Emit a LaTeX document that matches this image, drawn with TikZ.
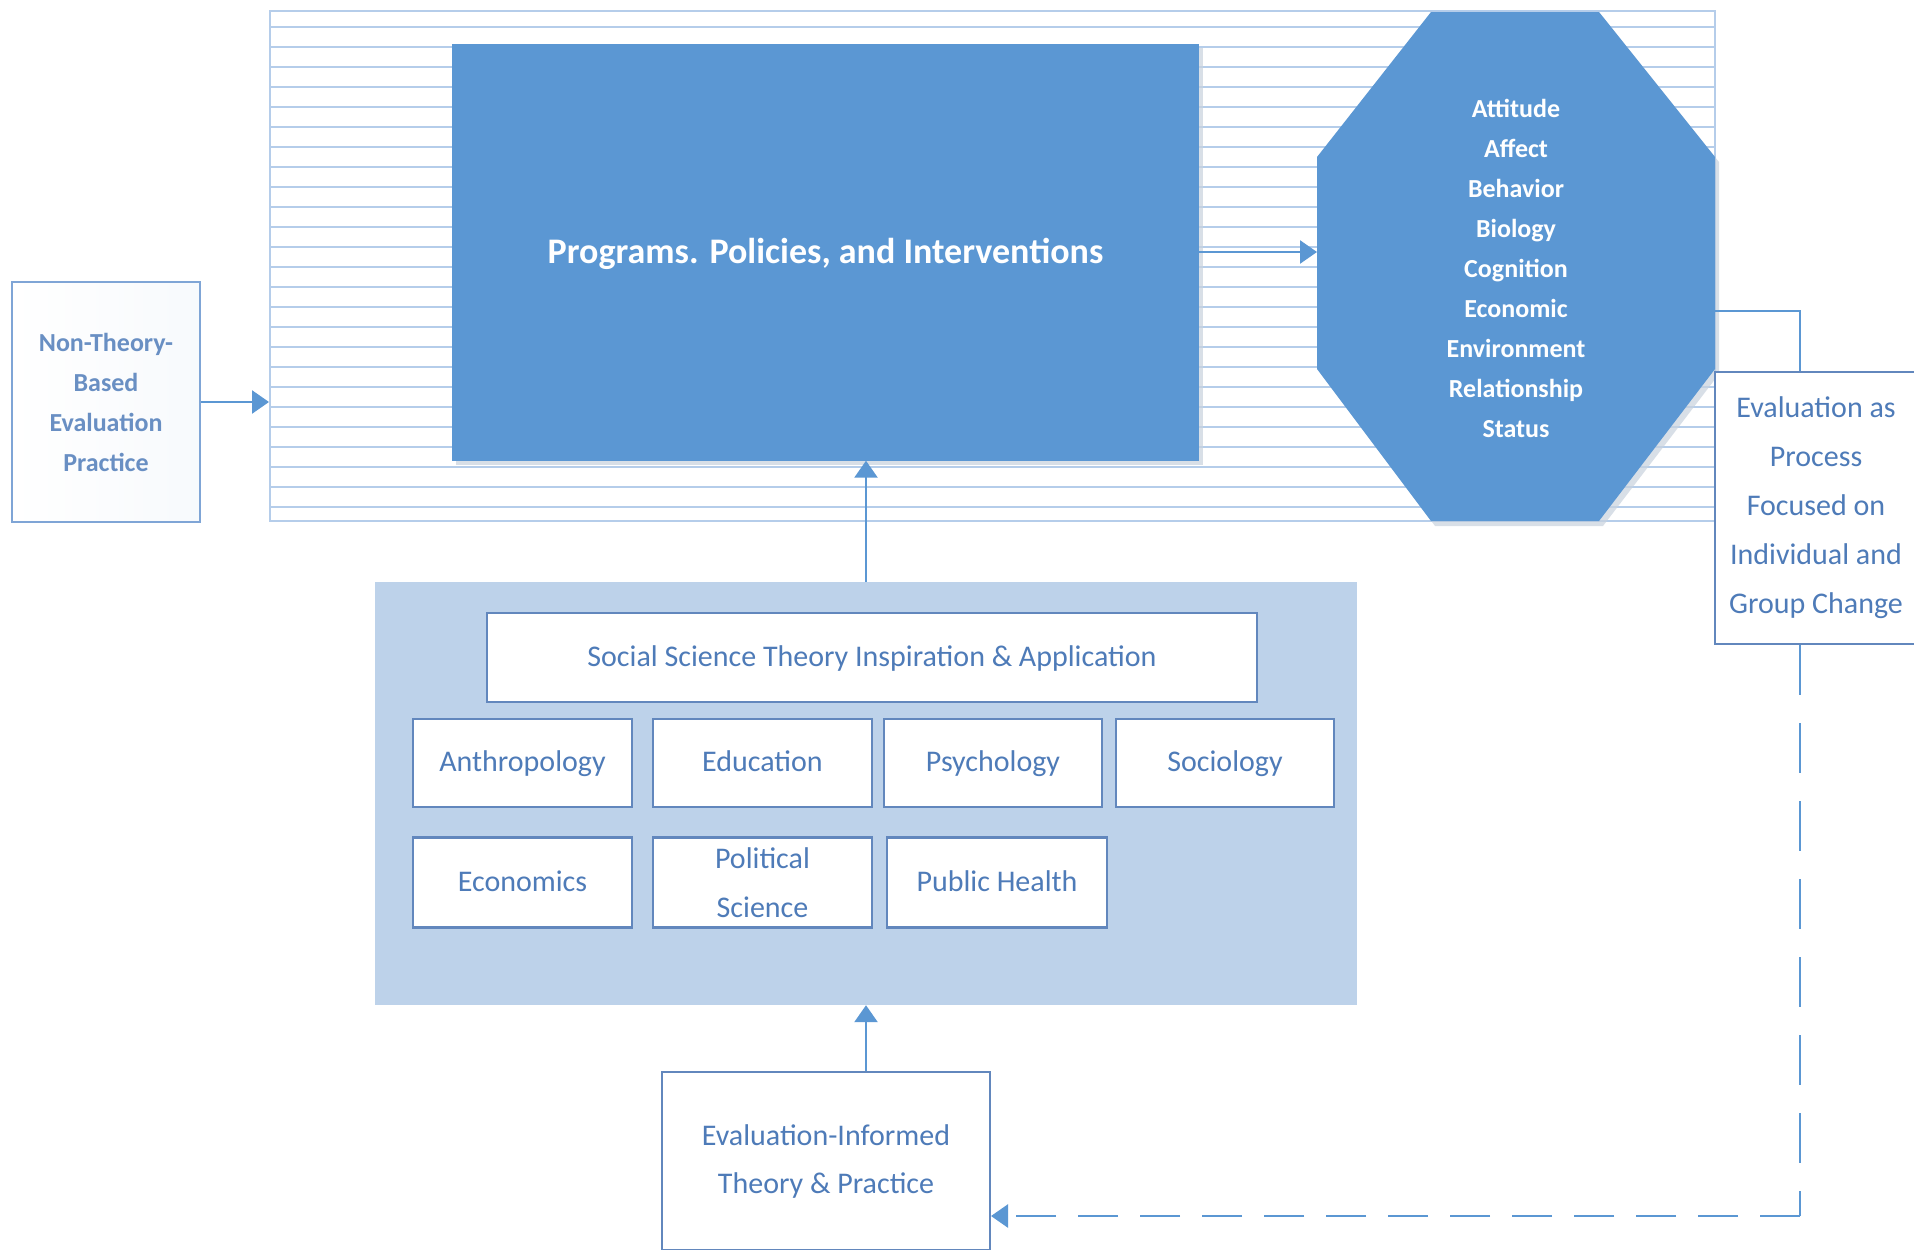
\documentclass[tikz,border=0pt]{standalone}
\usepackage{fontspec}
\setmainfont{Carlito}
\usetikzlibrary{arrows.meta}
\definecolor{mainblue}{HTML}{5B97D3}
\definecolor{hatchc}{HTML}{B5CDEA}
\definecolor{panelc}{HTML}{BDD2EA}
\definecolor{txtc}{HTML}{4E7BB8}
\definecolor{bordc}{HTML}{6287BD}
\definecolor{lightbord}{HTML}{7FA5D6}
\definecolor{connc}{HTML}{5B97D3}
\definecolor{shadowc}{HTML}{C8D2DE}
\tikzset{
  hatchline/.style={draw=hatchc, line width=2.5pt},
  framebox/.style={draw=hatchc, line width=2pt, inner sep=0pt},
  progbox/.style={fill=mainblue, draw=none, text=white, font=\fontsize{36}{44}\selectfont\bfseries,
    minimum width=747pt, minimum height=417pt, inner sep=0pt, text height=31pt, text depth=8pt},
  octtext/.style={text=white, font=\fontsize{26}{40}\selectfont\bfseries, align=center, inner sep=0pt},
  ntbox/.style={draw=lightbord, line width=2.5pt, left color=white, right color=white!88!panelc,
    text=txtc!85!white, font=\fontsize{26}{40}\selectfont\bfseries, align=center,
    minimum width=188pt, minimum height=240pt, inner sep=0pt},
  panelbox/.style={fill=panelc, draw=none, minimum width=982pt, minimum height=423pt, inner sep=0pt},
  discbox/.style={fill=white, draw=bordc, line width=2.5pt, text=txtc,
    font=\fontsize{30}{40}\selectfont, align=center, inner sep=0pt},
  oneline/.style={text height=24pt, text depth=7pt},
  sidebox/.style={fill=white, draw=bordc, line width=2pt, text=txtc,
    font=\fontsize{30}{49}\selectfont, align=center, inner sep=0pt},
  conn/.style={draw=connc, line width=2.5pt},
  tip/.style={-{Triangle[length=17pt,width=23pt]}},
}
\begin{document}
\begin{tikzpicture}[x=1pt,y=-1pt]
\useasboundingbox (0,0) rectangle (1914,1250);
\clip (0,0) rectangle (1914,1250);
\fill[white] (0,0) rectangle (1914,1250);

% hatched frame
\node[framebox, minimum width=1445pt, minimum height=510pt] (frame) at (992.5,266) {};
\foreach \yy in {27,47,...,507}
  \draw[hatchline] (270,\yy) -- (1715,\yy);

% programs box (soft shadow first)
\fill[shadowc, opacity=0.7] (456,48) rectangle (1203,465);
\node[progbox] (prog) at (825.5,252) {Programs. Policies, and Interventions};

% octagon
\fill[shadowc, opacity=0.7] (1435,17) -- (1603,17) -- (1719,162) -- (1719,374) -- (1603,526)
  -- (1435,526) -- (1321,374) -- (1321,162) -- cycle;
\fill[mainblue] (1431,12) -- (1599,12) -- (1715,157) -- (1715,369) -- (1599,521)
  -- (1431,521) -- (1317,369) -- (1317,157) -- cycle;
\node[octtext] (oct) at (1516,268) {Attitude\\Affect\\Behavior\\Biology\\Cognition\\Economic\\Environment\\Relationship\\Status};
\coordinate (octW) at (1317,252);
\coordinate (octE) at (1715,311);

% non-theory box
\node[ntbox] (nt) at (106,402) {Non-Theory-\\Based\\Evaluation\\Practice};

% evaluation as process
\node[sidebox, minimum width=202pt, minimum height=272pt] (ep) at (1816,508)
  {Evaluation as\\Process\\Focused on\\Individual and\\Group Change};

% panel
\node[panelbox] (panel) at (866,793.5) {};
\node[discbox, oneline, minimum width=770pt, minimum height=89pt] (ss) at (872,657.5)
  {Social Science Theory Inspiration \& Application};
\node[discbox, oneline, minimum width=219pt, minimum height=88pt] (anth) at (522.5,763) {Anthropology};
\node[discbox, oneline, minimum width=219pt, minimum height=88pt] (edu) at (762.5,763) {Education};
\node[discbox, oneline, minimum width=218pt, minimum height=88pt] (psy) at (993,763) {Psychology};
\node[discbox, oneline, minimum width=218pt, minimum height=88pt] (soc) at (1225,763) {Sociology};
\node[discbox, oneline, minimum width=219pt, minimum height=90pt] (eco) at (522.5,882.5) {Economics};
\node[discbox, font=\fontsize{30}{49}\selectfont, minimum width=219pt, minimum height=90pt] (pol) at (762.5,882.5) {Political\\Science};
\node[discbox, oneline, minimum width=220pt, minimum height=90pt] (ph) at (997,882.5) {Public Health};

% evaluation-informed
\node[sidebox, font=\fontsize{30}{48}\selectfont, minimum width=328pt, minimum height=178pt] (ei) at (826,1161)
  {Evaluation-Informed\\Theory \& Practice};

% connectors
\draw[conn, tip] (nt.east) -- (nt.east -| frame.west);
\draw[conn, tip] (prog.east) -- (octW);
\draw[conn, tip] (panel.north) -- (panel.north |- prog.south);
\draw[conn, tip] (ei.north -| panel.south) -- (panel.south);
\coordinate (c1) at (1800,311);
\draw[conn] (octE) -- (c1) -- (c1 |- ep.north);
\coordinate (corner) at (1800,1216);
\draw[conn, dash pattern=on 50pt off 28pt] (c1 |- ep.south) -- (corner);
\draw[conn, tip, dash pattern=on 40pt off 22pt] (corner) -- (corner -| ei.east);
\end{tikzpicture}
\end{document}
